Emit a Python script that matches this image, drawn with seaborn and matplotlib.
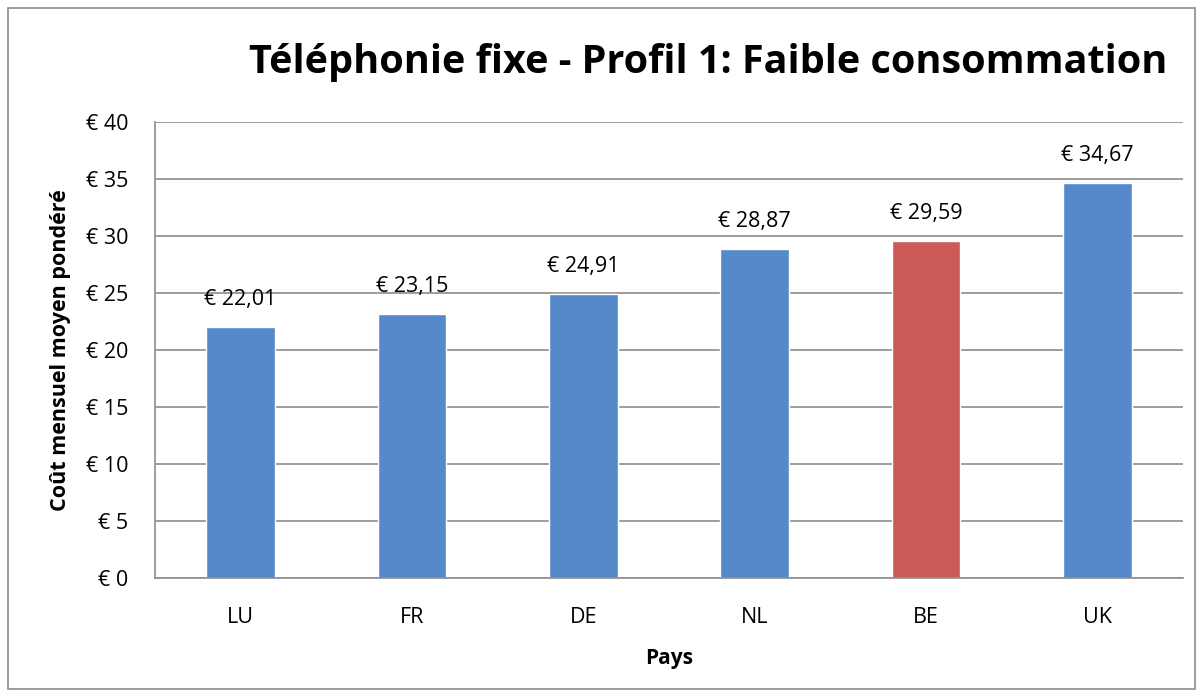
import numpy as np
import pandas as pd
import seaborn as sns
import matplotlib.pyplot as plt
from matplotlib.patches import Rectangle

pays = ["LU", "FR", "DE", "NL", "BE", "UK"]
cout = [22.01, 23.15, 24.91, 28.87, 29.59, 34.67]
couleurs = ["#5589C9", "#5589C9", "#5589C9", "#5589C9", "#CB5955", "#5589C9"]
yticks = [0, 5, 10, 15, 20, 25, 30, 35, 40]

sns.set_style("white")
plt.rcParams['font.family'] = ['Open Sans', 'DejaVu Sans']
plt.rcParams['text.color'] = 'black'
plt.rcParams['xtick.color'] = 'black'
plt.rcParams['ytick.color'] = 'black'
plt.rcParams['axes.labelcolor'] = 'black'

df = pd.DataFrame({"Pays": pays, "Cout": cout})

fig = plt.figure(figsize=(12.03, 6.95), dpi=100)
ax = fig.add_axes([155 / 1203, 1 - 578 / 695, (1183 - 155) / 1203, (578 - 122) / 695])

sns.barplot(data=df, x="Pays", y="Cout", hue="Pays", palette=couleurs,
            width=0.40, legend=False, ax=ax, saturation=1)

ax.set_ylim(0, 40)
ax.set_yticks(yticks)
ax.set_yticklabels([f"€ {v}" for v in yticks], fontsize=15.5)
ax.tick_params(axis='x', labelsize=15.5, length=0, pad=21)
ax.tick_params(axis='y', length=0, pad=19)
ax.yaxis.grid(True, color="#8c8c8c", linewidth=1.2)
ax.set_axisbelow(True)
for s in ["top", "right"]:
    ax.spines[s].set_visible(False)
for s in ["left", "bottom"]:
    ax.spines[s].set_color("#8c8c8c")
    ax.spines[s].set_linewidth(1.2)

for i, v in enumerate(cout):
    ax.text(i, v + 2.4, f"€ {v:.2f}".replace(".", ","), ha="center", va="center", fontsize=15.5)

ax.set_xlabel("Pays", fontsize=15, fontweight="bold", labelpad=14)
ax.set_ylabel("Coût mensuel moyen pondéré", fontsize=15.5, fontweight="bold", labelpad=11)

fig.text(708 / 1203, 1 - 62 / 695, "Téléphonie fixe - Profil 1: Faible consommation",
         ha="center", va="center", fontsize=28.5, fontweight="bold")

fig.patches.append(Rectangle((8 / 1203, 6 / 695), 1187 / 1203, 681 / 695, transform=fig.transFigure,
                             fill=False, edgecolor="#8c8c8c", linewidth=1.2))

fig.savefig("out.png", dpi=100)
